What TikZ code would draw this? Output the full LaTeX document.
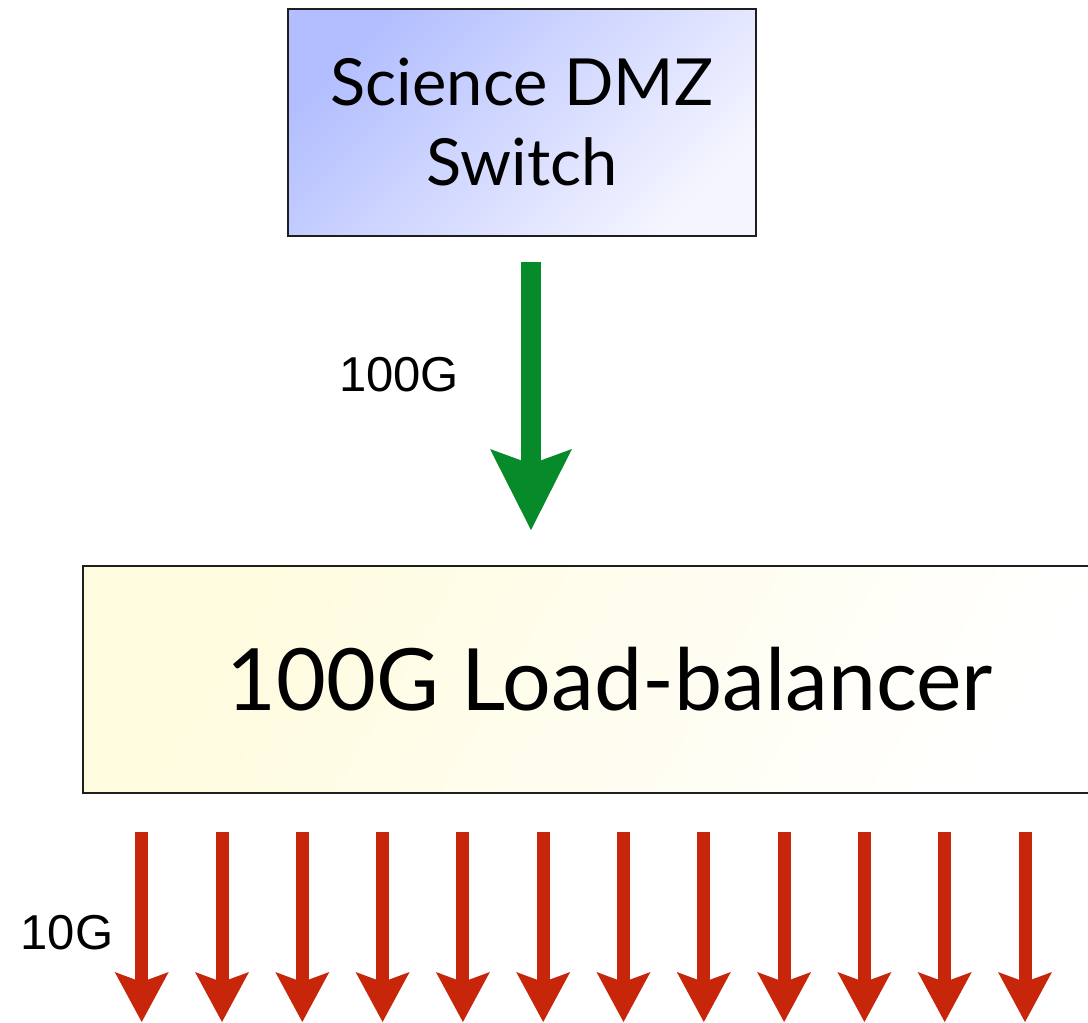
\documentclass[tikz,border=0pt]{standalone}
\usepackage{fontspec}
\setmainfont{Lato}
\newfontfamily\labfont{Liberation Sans}
\usetikzlibrary{arrows.meta}
\definecolor{boxblue}{RGB}{178,190,255}
\definecolor{boxyellow}{RGB}{255,251,222}
\definecolor{arrgreen}{RGB}{7,138,41}
\definecolor{arrred}{RGB}{200,38,10}
\definecolor{edge}{RGB}{30,30,30}
\tikzset{
  switchbox/.style={draw=edge, line width=2.5pt, top color=boxblue, bottom color=white!96!blue, shading angle=45,
    minimum width=468pt, minimum height=227pt, inner sep=0pt, align=center,
    font=\fontsize{65}{80}\selectfont},
  lbbox/.style={draw=edge, line width=2.5pt, top color=boxyellow, bottom color=white, shading angle=60,
    minimum width=1054pt, minimum height=227pt, inner sep=0pt,
    font=\fontsize{86}{100}\selectfont},
  bigarrow/.style={draw=arrgreen, line width=20pt, -{Stealth[length=81pt, width=82pt, inset=15pt, line width=0pt]}},
  smallarrow/.style={draw=arrred, line width=13pt, -{Stealth[length=50pt, width=54pt, inset=10pt, line width=0pt]}},
  lab/.style={inner sep=0pt, anchor=base, font=\labfont\fontsize{49}{56}\selectfont}
}
\begin{document}
\begin{tikzpicture}[x=1pt, y=-1pt]
\useasboundingbox (0,0) rectangle (1088,1023);
\clip (0,0) rectangle (1088,1023);
\node[switchbox] (sw) at (522,122.5) {Science DMZ\\Switch};
\node[lbbox] (lb) at (610,679.5) {100G Load-balancer};
\coordinate (g1) at (531,262);
\coordinate (g2) at (531,530);
\draw[bigarrow] (g1) -- (g2);
\node[lab] (l100) at (399,391) {100G};
\node[lab] (l10) at (67,949) {10G};
\foreach \i in {0,...,11}{
  \coordinate (r\i a) at ({141.7+80.3*\i},832);
  \coordinate (r\i b) at ({141.7+80.3*\i},1022);
  \draw[smallarrow] (r\i a) -- (r\i b);
}
\end{tikzpicture}
\end{document}
